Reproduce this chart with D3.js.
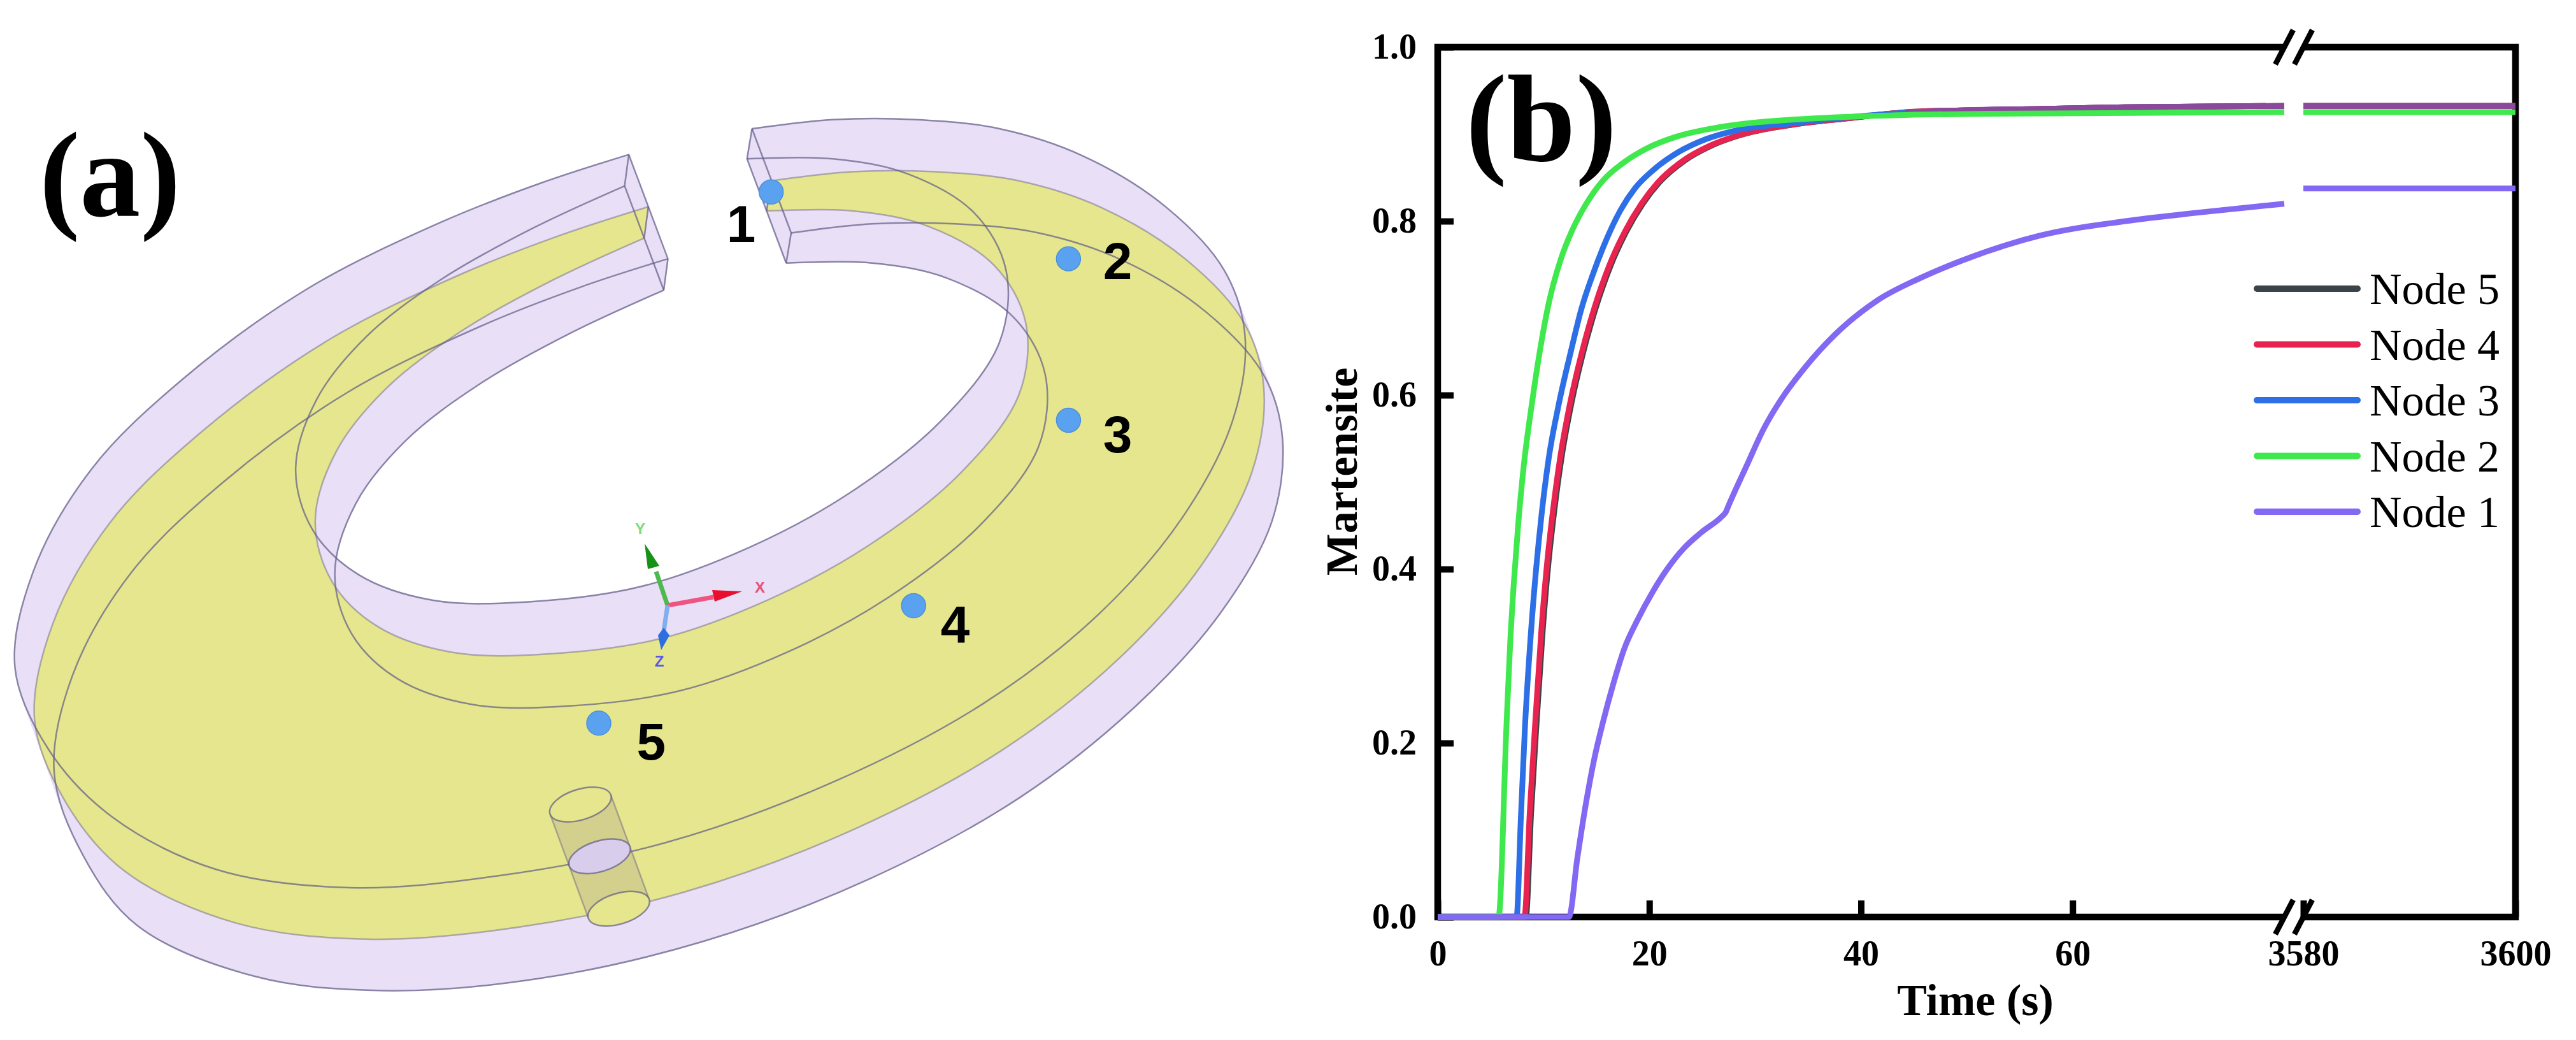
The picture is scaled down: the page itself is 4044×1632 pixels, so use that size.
<!DOCTYPE html>
<html>
<head>
    <title>Martensite evolution at five nodes</title>
    <script src="https://d3js.org/d3.v7.min.js"></script>
    <style>
        body { margin: 0; background: #fff; }
        svg { display: block; }
        text { font-family: "Liberation Serif", serif; fill: #000; }
        .axis text { font-size: 56px; font-weight: bold; }
        .axis line { stroke: #000; stroke-width: 10px; }
        .axis path { display: none; }
        .frame { stroke: #000; stroke-width: 10.5px; fill: none; }
        .curve { fill: none; stroke-width: 9px; }
        .edge { fill: none; stroke: #5f5b86; stroke-opacity: 0.7; stroke-width: 2.5px; }
        .edge.soft { stroke-opacity: 0.45; }
        .node-label { font-family: "Liberation Sans", sans-serif; font-size: 82px; font-weight: bold; text-anchor: middle; }
    </style>
</head>
<body>
    <svg id="chart" width="4044" height="1632"></svg>

    <script>
        // Series: [time in s, martensite fraction]
        const node5 = [[0,0],[8.33,0],[8.83,0.12],[9.33,0.22],[9.93,0.33],[10.43,0.402],[11.03,0.468],[11.73,0.53],[12.63,0.59],[13.73,0.648],[14.93,0.7],[16.38,0.75],[17.78,0.787],[19.38,0.82],[20.98,0.845],[23.38,0.87],[25.73,0.886],[28.1,0.897],[33.6,0.911],[39,0.9185],[44,0.925],[50,0.9275],[57,0.929],[65,0.931],[80,0.9325],[3580,0.9325],[3600,0.9325]];
        const node4 = [[0,0],[8.2,0],[8.7,0.12],[9.2,0.22],[9.8,0.33],[10.3,0.402],[10.9,0.468],[11.6,0.53],[12.5,0.59],[13.6,0.648],[14.8,0.7],[16.25,0.75],[17.65,0.787],[19.25,0.82],[20.85,0.845],[23.25,0.87],[25.6,0.886],[28,0.897],[33.5,0.911],[38.9,0.9185],[44,0.925],[50,0.9275],[57,0.929],[65,0.931],[80,0.9325],[3580,0.9325],[3600,0.9325]];
        const node3 = [[0,0],[7.45,0],[7.86,0.114],[8.25,0.219],[8.8,0.325],[9.3,0.4],[9.82,0.463],[10.5,0.528],[11.45,0.59],[12.6,0.651],[13.6,0.7],[14.64,0.738],[15.64,0.77],[17.25,0.812],[18.66,0.838],[20.3,0.858],[22.7,0.879],[25.4,0.8945],[28.1,0.904],[33.5,0.9125],[38.9,0.9195],[44.2,0.9245],[50,0.9275],[57,0.929],[65,0.931],[80,0.9325],[3580,0.9325],[3600,0.9325]];
        const node2 = [[0,0],[5.75,0],[6.5,0.22],[6.85,0.315],[7.2,0.385],[7.6,0.45],[8.1,0.515],[8.9,0.59],[9.62,0.648],[10.52,0.707],[11.63,0.756],[12.73,0.79],[14.04,0.82],[15.64,0.847],[17.65,0.868],[19.66,0.883],[22.67,0.8975],[25.7,0.906],[29.7,0.913],[33.5,0.9166],[38.9,0.92],[44.2,0.922],[52.3,0.9235],[80,0.9253],[3580,0.9253],[3600,0.9253]];
        const node1 = [[0,0],[12.4,0],[13.2,0.068],[14,0.13],[14.8,0.182],[15.64,0.225],[16.64,0.27],[17.65,0.309],[18.86,0.341],[20.26,0.3726],[21.67,0.3997],[23.27,0.424],[24.9,0.442],[26.9,0.461],[27.2,0.465],[27.5,0.4735],[29.2,0.519],[30.8,0.561],[32.4,0.594],[34.8,0.633],[37.5,0.669],[41.5,0.7085],[45.5,0.734],[49.6,0.755],[53.6,0.772],[56.8,0.783],[65,0.8],[72,0.81],[80,0.82],[3580,0.8375],[3600,0.8375]];

        const seriesNames = ["Node 5", "Node 4", "Node 3", "Node 2", "Node 1"];
        const seriesValues = [node5, node4, node3, node2, node1];
        const seriesColors = ["#3a4448", "#e8234f", "#2d6fe6", "#3fe84c", "#8268f2"];
        const xTicks = [0, 20, 40, 60, 3580, 3600];
        const yTicks = [0, 0.2, 0.4, 0.6, 0.8, 1];

        // Ring outlines in the coordinates of the sketch: top face, and the outer edge of the base
        const ringOuter = [[903,55],[1000,40],[1100,40],[1200,55],[1300,100],[1400,185],[1470,290],[1495,400],[1480,540],[1420,700],[1320,860],[1180,1010],[1000,1140],[800,1240],[600,1295],[420,1315],[260,1285],[135,1198],[58,1085],[18,950],[40,790],[110,620],[220,470],[370,320],[530,210],[650,145],[755,98]];
        const ringOuterBase = [[950,228],[1047,213],[1147,213],[1247,228],[1347,273],[1447,358],[1517,463],[1540,570],[1527,708],[1465,860],[1365,1012],[1225,1165],[1045,1300],[845,1404],[647,1466],[460,1486],[305,1462],[165,1378],[100,1262],[65,1123],[87,963],[157,793],[267,643],[417,493],[577,383],[697,318],[802,271]];
        const ringInner = [[897,105],[1000,105],[1090,130],[1170,195],[1208,290],[1200,410],[1130,540],[1020,660],[900,750],[770,815],[640,840],[520,838],[430,795],[375,720],[355,620],[380,505],[440,400],[530,305],[640,220],[750,150]];
        const thickness = [47, 173];
        const nodeSpots = [[926,160],[1283,271],[1283,539],[1097,847],[719,1042]];
        const nodeLabels = ["1", "2", "3", "4", "5"];
        const nodeLabelSpots = [[890,243],[1342,305],[1342,593],[1147,908],[782,1102]];
        const holeCentres = [[697,1177],[720,1263],[743,1350]];

        const svg = d3.select("#chart");

        // Panel (a)
        const sx = d3.scaleLinear().domain([0, 1568]).range([0, 2050]);
        const sy = d3.scaleLinear().domain([0, 1568]).range([150, 1632]);
        const sketch = d3.select("#chart").append("g");

        const ringLine = d3.line()
            .x(d => sx(d[0]))
            .y(d => sy(d[1]))
            .curve(d3.curveCatmullRom);

        const outerAt = k => ringOuter.map((p, i) => [
            p[0] + (ringOuterBase[i][0] - p[0]) * k,
            p[1] + (ringOuterBase[i][1] - p[1]) * k
        ]);
        const shifted = (pts, k) => pts.map(p => [p[0] + thickness[0] * k, p[1] + thickness[1] * k]);
        const ringPath = k => ringLine(outerAt(k)) + "L" +
            ringLine(shifted(ringInner, k).reverse()).slice(1) + "Z";

        // walls: the face swept through the thickness
        sketch.append("g")
            .selectAll("path")
            .data(d3.range(0, 41).map(i => i / 40))
            .join("path")
            .attr("d", ringPath)
            .attr("fill", "#e9dff6")
            .attr("stroke", "#e9dff6")
            .attr("stroke-width", 2);

        sketch.append("path").attr("d", ringPath(0.5)).attr("fill", "#e6e68e");

        // outlines
        [0, 0.5, 1].forEach(k => {
            const soft = k === 0.5 ? " soft" : "";
            sketch.append("path").attr("class", "edge" + soft).attr("d", ringLine(outerAt(k)));
            sketch.append("path").attr("class", "edge" + soft).attr("d", ringLine(shifted(ringInner, k)));
        });

        // cut faces at both ends of the gap
        const straight = d3.line().x(d => sx(d[0])).y(d => sy(d[1]));
        [[ringOuter[0], ringInner[0]], [ringOuter[ringOuter.length - 1], ringInner[ringInner.length - 1]]].forEach(([o, i]) => {
            sketch.append("path").attr("class", "edge").attr("d", straight([o, shifted([o], 1)[0]]));
            sketch.append("path").attr("class", "edge").attr("d", straight([i, shifted([i], 1)[0]]));
            [0, 0.5, 1].forEach(k => {
                sketch.append("path").attr("class", "edge").attr("d", straight(shifted([o, i], k)));
            });
        });

        // bolt hole
        const holeR = [50, 24];
        const holeTilt = -17;
        const rad = holeTilt * Math.PI / 180;
        const hx = holeR[0] * Math.cos(rad);
        const hy = holeR[0] * Math.sin(rad);
        const a = holeCentres[0], b = holeCentres[2];
        sketch.append("path")
            .attr("d", `M${sx(a[0]) - hx},${sy(a[1]) - hy}L${sx(a[0]) + hx},${sy(a[1]) + hy}L${sx(b[0]) + hx},${sy(b[1]) + hy}L${sx(b[0]) - hx},${sy(b[1]) - hy}Z`)
            .attr("fill", "#b7ad8a")
            .attr("fill-opacity", 0.4);
        sketch.append("path").attr("class", "edge soft").attr("d", `M${sx(a[0]) - hx},${sy(a[1]) - hy}L${sx(b[0]) - hx},${sy(b[1]) - hy}`);
        sketch.append("path").attr("class", "edge soft").attr("d", `M${sx(a[0]) + hx},${sy(a[1]) + hy}L${sx(b[0]) + hx},${sy(b[1]) + hy}`);
        sketch.append("g")
            .selectAll("ellipse")
            .data(holeCentres)
            .join("ellipse")
            .attr("class", "edge")
            .attr("rx", holeR[0])
            .attr("ry", holeR[1])
            .attr("transform", d => `translate(${sx(d[0])},${sy(d[1])}) rotate(${holeTilt})`)
            .style("fill", (d, i) => ["#e6e68e", "#d9cdec", "#e6e68e"][i]);

        // coordinate triad
        const triad = sketch.append("g");
        triad.append("path").attr("d", "M1048,950L1030,897").attr("stroke", "#4fb84f").attr("stroke-width", 7);
        triad.append("path").attr("d", "M1012,853L1035,888L1017,893Z").attr("fill", "#169216");
        triad.append("path").attr("d", "M1048,950L1120,937").attr("stroke", "#ee5580").attr("stroke-width", 7);
        triad.append("path").attr("d", "M1165,928L1118,926L1122,944Z").attr("fill", "#e80f2e");
        triad.append("path").attr("d", "M1048,950L1042,990").attr("stroke", "#80aeee").attr("stroke-width", 7);
        triad.append("path").attr("d", "M1042,985L1051,997L1038,1020L1033,997Z").attr("fill", "#2e6fe0");
        [["Y", 1005, 838, "#7bdc7b"], ["X", 1193, 930, "#e8507a"], ["Z", 1035, 1046, "#5a5ae0"]].forEach(t => {
            triad.append("text").text(t[0]).attr("x", t[1]).attr("y", t[2])
                .attr("text-anchor", "middle")
                .style("font-family", "'Liberation Sans', sans-serif")
                .style("font-size", "24px")
                .style("font-weight", "bold")
                .style("fill", t[3]);
        });

        // nodes
        sketch.append("g")
            .selectAll("circle")
            .data(nodeSpots)
            .join("circle")
            .attr("cx", d => sx(d[0]))
            .attr("cy", d => sy(d[1]))
            .attr("r", 19)
            .attr("fill", "#5aa2ef")
            .attr("stroke", "#4a8fdd")
            .attr("stroke-width", 1.5);

        sketch.append("g")
            .selectAll("text")
            .data(nodeLabels)
            .join("text")
            .attr("class", "node-label")
            .attr("x", (d, i) => sx(nodeLabelSpots[i][0]))
            .attr("y", (d, i) => sy(nodeLabelSpots[i][1]))
            .text(d => d);

        sketch.append("text").text("(a)")
            .attr("x", 62).attr("y", 339)
            .style("font-size", "190px").style("font-weight", "bold");

        // Panel (b)
        const x = d3.scaleLinear().domain([0, 80, 3580, 3600]).range([2257, 3586, 3616, 3949]);
        const y = d3.scaleLinear().domain([0, 1]).range([1439, 74]);

        const gap = [x(80), x(3580)];
        svg.append("path").attr("class", "frame")
            .attr("d", `M${gap[0]},${y(1)}H${x(0)}V${y(0)}H${gap[0]}`);
        svg.append("path").attr("class", "frame")
            .attr("d", `M${gap[1]},${y(1)}H${x(3600)}V${y(0)}H${gap[1]}`);

        // break marks across top and bottom axes
        [y(1), y(0)].forEach(yy => {
            gap.forEach(gx => {
                svg.append("line")
                    .attr("x1", gx - 14).attr("y1", yy + 27)
                    .attr("x2", gx + 14).attr("y2", yy - 27)
                    .attr("stroke", "#000").attr("stroke-width", 8.5);
            });
        });

        svg.append("g")
            .attr("class", "axis")
            .attr("transform", `translate(0,${y(0)})`)
            .call(d3.axisBottom(x).tickValues(xTicks).tickFormat(d3.format("d")).tickSizeInner(-26).tickSizeOuter(0).tickPadding(36));

        svg.append("g")
            .attr("class", "axis")
            .attr("transform", `translate(${x(0)},0)`)
            .call(d3.axisLeft(y).tickValues(yTicks).tickFormat(d3.format(".1f")).tickSizeInner(-25).tickSizeOuter(0).tickPadding(33));

        const curve = d3.line()
            .x(d => x(d[0]))
            .y(d => y(d[1]))
            .curve(d3.curveMonotoneX);

        const curves = svg.append("g");
        seriesValues.forEach((values, i) => {
            curves.append("path").attr("class", "curve")
                .attr("d", curve(values.filter(d => d[0] <= 80)))
                .attr("stroke", seriesColors[i]);
            curves.append("path").attr("class", "curve")
                .attr("d", curve(values.filter(d => d[0] >= 3580)))
                .attr("stroke", seriesColors[i]);
            // red shows through the blue where the top curves coincide
            if (seriesNames[i] === "Node 3") {
                [values.filter(d => d[0] >= 40 && d[0] <= 80), values.filter(d => d[0] >= 3580)].forEach(tail => {
                    curves.append("path").attr("class", "curve")
                        .attr("d", curve(tail))
                        .attr("stroke", seriesColors[1])
                        .attr("stroke-opacity", 0.5);
                });
            }
        });

        svg.append("text").text("Time (s)")
            .attr("x", 3101).attr("y", 1593)
            .attr("text-anchor", "middle")
            .style("font-size", "70px").style("font-weight", "bold");

        svg.append("text").text("Martensite")
            .attr("transform", "translate(2130,740) rotate(-90)")
            .attr("text-anchor", "middle")
            .style("font-size", "70px").style("font-weight", "bold");

        svg.append("text").text("(b)")
            .attr("x", 2301).attr("y", 252)
            .style("font-size", "194px").style("font-weight", "bold");

        // Legend
        const legendY = d3.scalePoint().domain(seriesNames).range([453, 803]);
        const legend = svg.append("g")
            .selectAll("g")
            .data(seriesNames)
            .join("g")
            .attr("transform", d => `translate(0,${legendY(d)})`);
        legend.append("line")
            .attr("x1", 3543).attr("x2", 3701)
            .attr("stroke", (d, i) => seriesColors[i])
            .attr("stroke-width", 10)
            .attr("stroke-linecap", "round");
        legend.append("text")
            .attr("x", 3720).attr("y", 24)
            .style("font-size", "70px")
            .text(d => d);
    </script>
</body>
</html>
